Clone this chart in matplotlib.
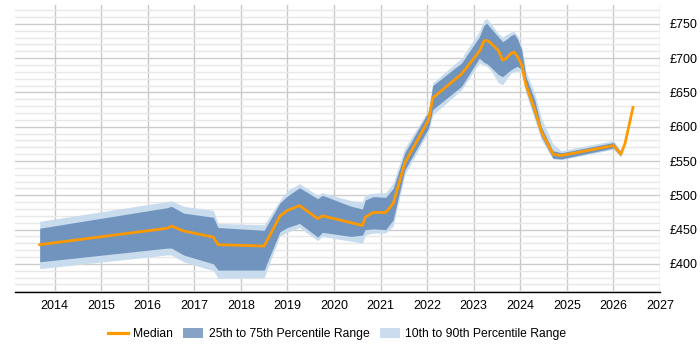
import numpy as np
import matplotlib
matplotlib.use("Agg")
import matplotlib.pyplot as plt
from matplotlib.lines import Line2D
from matplotlib.patches import Patch

plt.rcParams['font.family'] = ['Liberation Sans', 'DejaVu Sans']

years = [2013.68, 2016.42, 2016.51, 2016.77, 2017.41, 2017.51, 2018.50, 2018.84,
         2019.00, 2019.26, 2019.65, 2019.75, 2020.37, 2020.61, 2020.67, 2020.84,
         2021.11, 2021.27, 2021.52, 2022.03, 2022.12, 2022.74, 2023.12, 2023.22,
         2023.28, 2023.35, 2023.53, 2023.62, 2023.69, 2023.80, 2023.87, 2023.94,
         2024.03, 2024.12, 2024.31, 2024.45, 2024.70, 2024.88, 2026.00, 2026.16,
         2026.25, 2026.42]
median = [428, 452, 455, 448, 439, 428, 426, 470, 478, 485, 466, 470, 460, 456, 468, 475,
          475, 488, 547, 610, 642, 677, 710, 725, 726, 723, 711, 697, 699, 707, 709, 702,
          690, 661, 625, 593, 560, 558, 572.5, 560, 576, 628]
p25 = [403, 423, 423, 413, 400, 391, 391, 447, 453, 459, 439, 446, 440, 442, 450, 451,
       450, 464, 537, 598, 625, 659, 700, 694, 692, 688, 676, 673, 677, 683, 686, 688,
       683, 654, 615, 586, 554, 553, 569, 557, np.nan, np.nan]
p75 = [452, 482, 484, 474, 468, 453, 449, 489, 499, 511, 495, 500, 484, 480, 493, 498,
       497, 510, 562, 622, 660, 693, 731, 748, 751, 745, 731, 724, 727, 733, 735, 728,
       712, 673, 639, 600, 565, 562, 577, 563, np.nan, np.nan]
p10 = [393, 413, 413, 403, 390, 379, 380, 441, 446, 453, 434, 440, 433, 430, 442, 445,
       445, 455, 530, 593, 617, 654, 693, 690, 688, 684, 664, 661, 668, 678, 680, 681,
       678, 649, 610, 581, 553, 552, 567, 556, np.nan, np.nan]
p90 = [462, 491, 492, 484, 478, 459, 457, 493, 507, 517, 500, 504, 492, 491, 501, 503,
       504, 518, 569, 625, 664, 700, 739, 755, 758, 752, 736, 731, 734, 738, 739, 733,
       717, 681, 649, 613, 575, 565, 580, 565, np.nan, np.nan]

xticks = list(range(2014, 2028))
yticks = [400, 450, 500, 550, 600, 650, 700, 750]
ytick_labels = ['£%d' % v for v in yticks]

x = np.array(years)
fig = plt.figure(figsize=(7, 3.5), dpi=100)
ax = fig.add_axes([15/700, 1-292/350, 645/700, 287/350])

light = '#c9dcee'
dark = '#7094bd'
ax.fill_between(x, p10, p90, color=light, lw=0, zorder=2)
ax.fill_between(x, p25, p75, color=dark, lw=0, zorder=3)
ax.plot(x, median, color='#ff9900', lw=2, zorder=4)

ax.set_xlim(2013.15, 2027.0)
ax.set_ylim(359, 777.5)
ax.set_xticks(xticks)
ax.set_xticklabels([str(v) for v in xticks], fontsize=9)
ax.set_yticks(yticks)
ax.set_yticklabels(ytick_labels, fontsize=9)
ax.set_yticks(np.arange(360, 780, 10), minor=True)
ax.yaxis.tick_right()
ax.tick_params(axis='both', length=0, which='both')
ax.tick_params(axis='y', pad=7)
ax.tick_params(axis='x', pad=6)
ax.grid(axis='y', which='major', color='#cccccc', lw=1, zorder=0)
ax.grid(axis='y', which='minor', color='#e8e8e8', lw=1, zorder=0)
ax.grid(axis='x', which='major', color='#c8c8c8', lw=1, zorder=0)
ax.set_axisbelow(True)
for s in ['top', 'right', 'left']:
    ax.spines[s].set_visible(False)
ax.spines['bottom'].set_color('black')
ax.spines['bottom'].set_linewidth(1)

handles = [Line2D([0], [0], color='#ff9900', lw=2.3),
           Patch(facecolor='#86a3c6', edgecolor='none'),
           Patch(facecolor='#cbdcee', edgecolor='none')]
labels = ['Median', '25th to 75th Percentile Range', '10th to 90th Percentile Range']
fig.legend(handles, labels, loc='center', bbox_to_anchor=(337/700, 1-334/350), ncol=3,
           frameon=False, fontsize=8.7, handlelength=1.65, handleheight=0.9,
           columnspacing=0.9, handletextpad=0.42, borderpad=0)

fig.savefig('out.png', dpi=100)
